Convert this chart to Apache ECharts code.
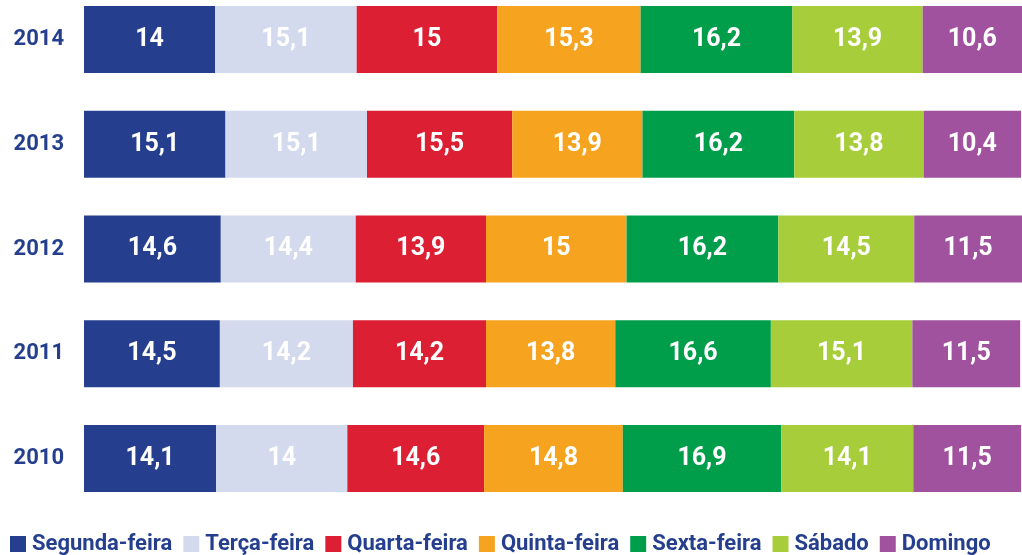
<!DOCTYPE html>
<html>
<head>
<meta charset="utf-8">
<script src="https://cdn.jsdelivr.net/npm/echarts@6/dist/echarts.min.js"></script>
<style>
  html, body { margin: 0; padding: 0; background: #fff; }
  #chart { width: 1022px; height: 555px; }
</style>
</head>
<body>
<div id="chart"></div>
<script>
// anos (de cima para baixo)
var years = ['2014', '2013', '2012', '2011', '2010'];
var days = ['Segunda-feira', 'Terça-feira', 'Quarta-feira', 'Quinta-feira', 'Sexta-feira', 'Sábado', 'Domingo'];
// valores por dia, na ordem dos anos
var segunda = [14, 15.1, 14.6, 14.5, 14.1];
var terca   = [15.1, 15.1, 14.4, 14.2, 14];
var quarta  = [15, 15.5, 13.9, 14.2, 14.6];
var quinta  = [15.3, 13.9, 15, 13.8, 14.8];
var sexta   = [16.2, 16.2, 16.2, 16.6, 16.9];
var sabado  = [13.9, 13.8, 14.5, 15.1, 14.1];
var domingo = [10.6, 10.4, 11.5, 11.5, 11.5];
var colors = ['#253f8e', '#d4daee', '#dc1f33', '#f6a31f', '#009e4a', '#a8cd3a', '#a1529f'];

var allValues = [segunda, terca, quarta, quinta, sexta, sabado, domingo];
var series = [];
for (var i = 0; i < days.length; i++) {
	series.push({
		name: days[i],
		type: 'bar',
		stack: 'total',
		barWidth: 67,
		clip: false,
		data: allValues[i],
		itemStyle: { color: colors[i] },
		label: {
			show: true,
			position: 'inside',
			color: '#fff',
			fontFamily: 'Roboto',
			fontWeight: 'bold',
			fontSize: 25,
			formatter: function(p){ return String(p.value).replace('.', ','); }
		},
		emphasis: { disabled: true }
	});
}

var myChart = echarts.init(document.getElementById('chart'));
var option = {
	animation: false,
	color: colors,
	legend: {
		left: 5,
		top: 528,
		itemWidth: 16,
		itemHeight: 16,
		itemGap: 11,
		icon: 'rect',
		data: days,
		textStyle: {
			color: '#253f8e',
			fontFamily: 'Roboto',
			fontWeight: 'bold',
			fontSize: 22,
			padding: [0, 0, 0, 1]
		}
	},
	grid: {
		left: 84,
		right: 0,
		top: 39.5,
		bottom: 555 - 458.5
	},
	xAxis: {
		type: 'value',
		min: 0,
		max: 100.1,
		show: false
	},
	yAxis: {
		type: 'category',
		inverse: true,
		boundaryGap: false,
		data: years,
		axisLine: { show: false },
		axisTick: { show: false },
		splitLine: { show: false },
		axisLabel: {
			margin: 20,
			color: '#253f8e',
			fontFamily: 'Roboto',
			fontWeight: 'bold',
			fontSize: 22
		}
	},
	series: series
};
myChart.setOption(option, true);
</script>
</body>
</html>
